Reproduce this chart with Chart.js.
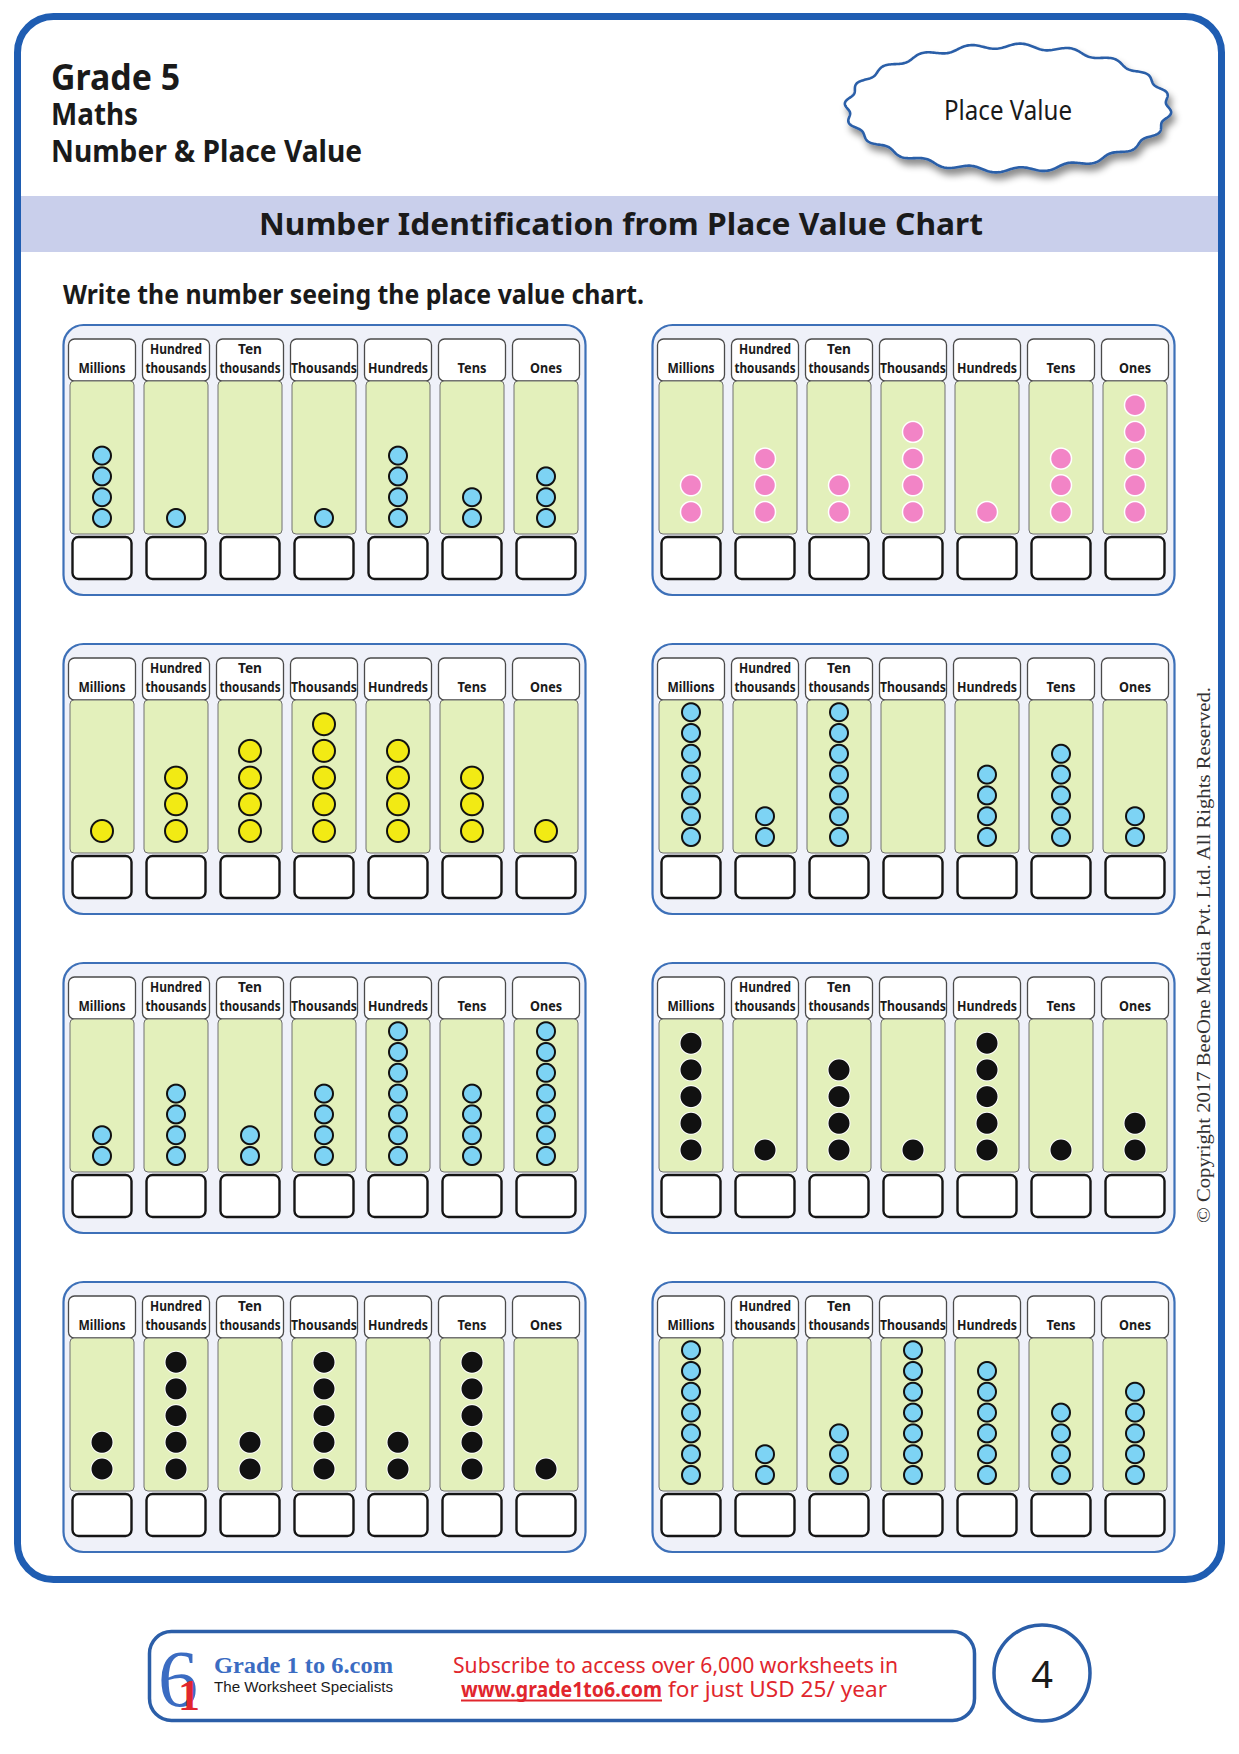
<!DOCTYPE html>
<html><head><meta charset="utf-8">
<script src="https://cdn.jsdelivr.net/npm/chart.js@4.4.1/dist/chart.umd.min.js"></script>
<style>
html,body{margin:0;padding:0;background:#fff;}
#page{position:relative;width:1239px;height:1754px;overflow:hidden;background:#fff;}
#bg{position:absolute;left:0;top:0;}
canvas.dots{position:absolute;}
</style></head>
<body><div id="page"><svg id="bg" width="1239" height="1754" xmlns="http://www.w3.org/2000/svg"></svg></div>
<script>
// ---------- DATA ----------
const placeLabels = ['Millions','Hundred thousands','Ten thousands','Thousands','Hundreds','Tens','Ones'];
const headerLines = [['Millions'],['Hundred','thousands'],['Ten','thousands'],['Thousands'],['Hundreds'],['Tens'],['Ones']];
const chart1Counts = [4,1,0,1,4,2,3];
const chart2Counts = [2,3,2,4,1,3,5];
const chart3Counts = [1,3,4,5,4,3,1];
const chart4Counts = [7,2,7,0,4,5,2];
const chart5Counts = [2,4,2,4,7,4,7];
const chart6Counts = [5,1,4,1,5,1,2];
const chart7Counts = [2,5,2,5,2,5,1];
const chart8Counts = [7,2,3,7,6,4,5];
const chartCounts = [chart1Counts,chart2Counts,chart3Counts,chart4Counts,chart5Counts,chart6Counts,chart7Counts,chart8Counts];
const chartStyles = ['blue','pink','yellow','blue','blue','black','black','blue'];

// ---------- STYLE / LAYOUT ----------
const dotStyles = {
  blue:   {fill:'#7dd3f4', stroke:'#111111', bw:2,   r:9,    unit:20.8, base:193},
  pink:   {fill:'#f284c6', stroke:'#ffffff', bw:1.5, r:10.5, unit:26.7, base:187},
  yellow: {fill:'#f2ea14', stroke:'#111111', bw:2,   r:11,   unit:26.7, base:187},
  black:  {fill:'#111111', stroke:'#ffffff', bw:1,   r:11,   unit:26.7, base:187}
};
const labelWidths = {'Millions':47,'Hundred':52,'thousands':61,'Ten':24,'Thousands':66,'Hundreds':60,'Tens':29,'Ones':32};
const panelLeft = [63.5, 652.5];
const panelTop = [325, 644, 963, 1282];
const PW = 522, PH = 270, PITCH = 74, C0 = 38.5;
const GREEN_TOP = 56, GREEN_H = 153;
const FONT = "'Comic Sans MS','Noto Sans',sans-serif";

const NS = 'http://www.w3.org/2000/svg';
const svg = document.getElementById('bg');
function el(tag, attrs, text, parent){
  const e = document.createElementNS(NS, tag);
  for (const k in attrs) e.setAttribute(k, attrs[k]);
  if (text !== undefined) e.textContent = text;
  (parent || svg).appendChild(e);
  return e;
}

// defs
const defs = el('defs', {});
const flt = el('filter', {id:'sh', x:'-20%', y:'-20%', width:'140%', height:'150%'}, undefined, defs);
el('feDropShadow', {dx:'3', dy:'6', stdDeviation:'3.5', 'flood-color':'#000', 'flood-opacity':'0.45'}, undefined, flt);

// outer border
el('rect', {x:17.5, y:16.5, width:1204, height:1563, rx:36, fill:'#fff', stroke:'#1f5db2', 'stroke-width':7});

// header texts
el('text', {x:51, y:90, 'font-family':FONT, 'font-size':35, 'font-weight':'bold', fill:'#1a1a1a', textLength:129, lengthAdjust:'spacingAndGlyphs'}, 'Grade 5');
el('text', {x:51, y:125, 'font-family':FONT, 'font-size':30, 'font-weight':'bold', fill:'#1a1a1a', textLength:87, lengthAdjust:'spacingAndGlyphs'}, 'Maths');
el('text', {x:51, y:162, 'font-family':FONT, 'font-size':30, 'font-weight':'bold', fill:'#1a1a1a', textLength:311, lengthAdjust:'spacingAndGlyphs'}, 'Number & Place Value');

// cloud
(function(){
  const cx = 1008, cy = 108, rx = 161, ry = 62, N = 20, a = 2.6;
  let d = '';
  for (let s = 0; s <= 720; s++){
    const t = s/720*Math.PI*2;
    const w = a*Math.sin(N*t);
    const x = cx + (rx + w)*Math.cos(t), y = cy + (ry + w)*Math.sin(t);
    d += (s ? 'L' : 'M') + x.toFixed(2) + ' ' + y.toFixed(2);
  }
  el('path', {d: d + 'Z', fill:'#fff', stroke:'#2b5ea8', 'stroke-width':2.6, filter:'url(#sh)'});
  el('text', {x:1008, y:120, 'text-anchor':'middle', 'font-family':FONT, 'font-size':27, fill:'#1a1a1a', textLength:128, lengthAdjust:'spacingAndGlyphs'}, 'Place Value');
})();

// band + title
el('rect', {x:21, y:196, width:1197, height:56, fill:'#c9cfeb'});
el('text', {x:259, y:235, 'font-family':FONT, 'font-size':30, 'font-weight':'bold', fill:'#1a1a1a', textLength:724, lengthAdjust:'spacingAndGlyphs'}, 'Number Identification from Place Value Chart');
el('text', {x:63, y:304, 'font-family':FONT, 'font-size':26, 'font-weight':'bold', fill:'#1a1a1a', textLength:581, lengthAdjust:'spacingAndGlyphs'}, 'Write the number seeing the place value chart.');

// panels
const page = document.getElementById('page');
chartCounts.forEach((counts, p) => {
  const L = panelLeft[p % 2], T = panelTop[Math.floor(p / 2)];
  el('rect', {x:L, y:T, width:PW, height:PH, rx:20, fill:'#eff1f9', stroke:'#3d70b8', 'stroke-width':2.2});
  placeLabels.forEach((lab, i) => {
    const c = L + C0 + PITCH*i;
    el('rect', {x:c-33.5, y:T+14, width:67, height:42, rx:6, fill:'#fff', stroke:'#4a4a4a', 'stroke-width':1.3});
    el('rect', {x:c-32, y:T+GREEN_TOP, width:64, height:GREEN_H, rx:4, fill:'#e3f0bb', stroke:'#707070', 'stroke-width':1});
    el('rect', {x:c-29.5, y:T+212, width:59, height:42, rx:6, fill:'#fff', stroke:'#151515', 'stroke-width':2.4});
    const lines = headerLines[i];
    const bases = lines.length === 2 ? [T+29, T+48] : [T+48];
    lines.forEach((w, j) => {
      el('text', {x:c, y:bases[j], 'text-anchor':'middle', 'font-family':FONT, 'font-size':14, 'font-weight':'bold', fill:'#1a1a1a', textLength:labelWidths[w], lengthAdjust:'spacingAndGlyphs'}, w);
    });
  });

  // dots through Chart.js
  const st = dotStyles[chartStyles[p]];
  const cv = document.createElement('canvas');
  cv.className = 'dots';
  const cw = PITCH*7, ch = GREEN_H;
  cv.width = cw; cv.height = ch;
  cv.style.left = (L + C0 - PITCH/2) + 'px';
  cv.style.top = (T + GREEN_TOP) + 'px';
  cv.style.width = cw + 'px'; cv.style.height = ch + 'px';
  page.appendChild(cv);
  const pts = [];
  counts.forEach((n, i) => { for (let k = 1; k <= n; k++) pts.push({x:i, y:k}); });
  const yMin = 1 - (GREEN_H - (st.base - GREEN_TOP))/st.unit;
  const yMax = yMin + GREEN_H/st.unit;
  new Chart(cv, {
    type:'scatter',
    data:{datasets:[{data:pts, pointRadius:st.r, pointHoverRadius:st.r, pointBackgroundColor:st.fill,
      pointBorderColor:st.stroke, pointBorderWidth:st.bw, pointHoverBorderWidth:st.bw, clip:false}]},
    options:{
      responsive:false, animation:false, devicePixelRatio:2, events:[],
      layout:{padding:0, autoPadding:false},
      plugins:{legend:{display:false}, tooltip:{enabled:false}},
      scales:{
        x:{type:'linear', min:-0.5, max:6.5, display:false},
        y:{type:'linear', min:yMin, max:yMax, display:false}
      }
    }
  });
});

// copyright
el('text', {transform:'translate(1210,1223) rotate(-90)', x:0, y:0, 'font-family':"'Liberation Serif','DejaVu Serif',serif", 'font-size':18, fill:'#333', textLength:536, lengthAdjust:'spacingAndGlyphs'}, '\u00A9 Copyright 2017 BeeOne Media Pvt. Ltd. All Rights Reserved.');

// footer
el('rect', {x:149.5, y:1631.5, width:825, height:89, rx:22, fill:'#fff', stroke:'#2b5ea8', 'stroke-width':3.5});
el('text', {x:158, y:1706, 'font-family':"'Liberation Serif',serif", 'font-size':80, fill:'#3b6cc2'}, '6');
el('text', {x:178, y:1710, 'font-family':"'Liberation Serif',serif", 'font-size':44, 'font-weight':'bold', fill:'#e1262d'}, '1');
el('text', {x:214, y:1673, 'font-family':"'Liberation Serif',serif", 'font-size':23, 'font-weight':'bold', fill:'#3b6cc2', textLength:179, lengthAdjust:'spacingAndGlyphs'}, 'Grade 1 to 6.com');
el('text', {x:214, y:1692, 'font-family':"'Liberation Sans',Arial,sans-serif", 'font-size':14.5, fill:'#1a1a1a', textLength:179, lengthAdjust:'spacingAndGlyphs'}, 'The Worksheet Specialists');
el('text', {x:453, y:1673, 'font-family':FONT, 'font-size':21, fill:'#e1262d', textLength:445, lengthAdjust:'spacingAndGlyphs'}, 'Subscribe to access over 6,000 worksheets in');
el('text', {x:461, y:1697, 'font-family':FONT, 'font-size':21, 'font-weight':'bold', fill:'#e1262d', textLength:201, lengthAdjust:'spacingAndGlyphs'}, 'www.grade1to6.com');
el('rect', {x:461, y:1699.5, width:201, height:2, fill:'#e1262d'});
el('text', {x:668, y:1697, 'font-family':FONT, 'font-size':21, fill:'#e1262d', textLength:219, lengthAdjust:'spacingAndGlyphs'}, 'for just USD 25/ year');

// page number
el('circle', {cx:1042, cy:1673, r:48, fill:'#fff', stroke:'#2b5ea8', 'stroke-width':3.5});
el('text', {x:1042, y:1688, 'text-anchor':'middle', 'font-family':FONT, 'font-size':38, fill:'#1a1a1a'}, '4');
</script>
</body></html>
